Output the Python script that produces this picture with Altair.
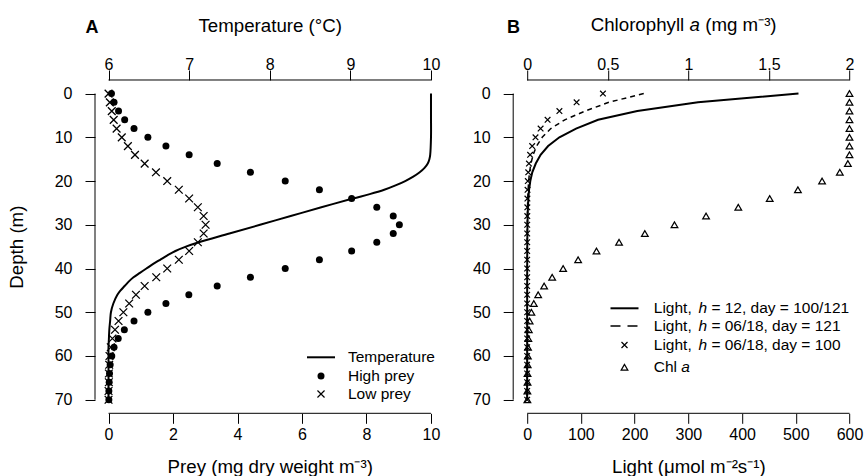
import altair as alt
import pandas as pd

# ---------------- data ----------------
depth = list(range(0, 72, 2))

high_prey = [0.09, 0.17, 0.31, 0.50, 0.79, 1.22, 1.78, 2.50, 3.37, 4.40, 5.48, 6.54,
             7.54, 8.32, 8.83, 9.02, 8.83, 8.32, 7.54, 6.54, 5.48, 4.40, 3.37, 2.49,
             1.78, 1.22, 0.79, 0.49, 0.30, 0.17, 0.10, 0.05, 0.03, 0.02, 0.01, 0.01]
low_prey = [0.00, 0.04, 0.10, 0.16, 0.25, 0.41, 0.60, 0.82, 1.12, 1.47, 1.82, 2.18,
            2.50, 2.77, 2.95, 3.01, 2.95, 2.77, 2.50, 2.18, 1.82, 1.48, 1.12, 0.85,
            0.64, 0.46, 0.31, 0.20, 0.12, 0.07, 0.03, 0.02, 0.01, 0.01, 0.00, 0.00]

temp_depth = [0, 5, 10, 14, 15, 16, 17, 18, 19, 20, 21, 22, 23, 24, 26, 28, 30, 32, 34,
              35, 36, 37, 38, 39, 40, 41, 42, 43, 44, 45, 46, 48, 50, 52, 54, 56, 58,
              60, 65, 70]
temp_c = [10.0, 10.0, 10.0, 9.99, 9.98, 9.96, 9.92, 9.86, 9.78, 9.68, 9.56, 9.42, 9.24,
          9.03, 8.64, 8.26, 7.88, 7.50, 7.12, 6.96, 6.83, 6.73, 6.64, 6.55, 6.47, 6.39,
          6.31, 6.25, 6.20, 6.15, 6.11, 6.06, 6.03, 6.02, 6.01, 6.005, 6.0, 6.0, 6.0, 6.0]

light_h12 = [505, 318, 205, 132, 91, 60, 39, 25, 16, 9.5, 5.8, 3.5, 2.2, 1.4, 0.9, 0.6,
             0.4, 0.25, 0.15, 0.1, 0.07, 0.05, 0.03, 0.02, 0.01, 0.01,
             0, 0, 0, 0, 0, 0, 0, 0, 0, 0]
light_h0618_d121 = [217, 152, 108, 70, 44, 28, 17.5, 11, 7, 4.4, 2.8, 1.8, 1.1, 0.7,
                    0.45, 0.3, 0.2, 0.12, 0.08, 0.05, 0.03, 0.02, 0.01, 0.01,
                    0, 0, 0, 0, 0, 0, 0, 0, 0, 0, 0, 0]
light_h0618_d100 = [141, 92, 60, 38, 25, 15.5, 9.3, 5.5, 3.3, 2.0, 1.2, 0.7, 0.45, 0.3,
                    0.2, 0.1, 0.07, 0.05, 0.03, 0.02, 0.01, 0.01,
                    0, 0, 0, 0, 0, 0, 0, 0, 0, 0, 0, 0, 0, 0]
chl_a = [2.0, 2.0, 2.0, 2.0, 2.0, 2.0, 2.0, 2.0, 1.99, 1.94, 1.83, 1.68, 1.505, 1.31,
         1.11, 0.914, 0.73, 0.57, 0.43, 0.316, 0.223, 0.155, 0.105, 0.068, 0.041, 0.026,
         0.015, 0.01, 0.007, 0.005, 0.004, 0.003, 0.002, 0.002, 0.001, 0.001]

depth_ticks = [0, 10, 20, 30, 40, 50, 60, 70]
prey_ticks = [0, 2, 4, 6, 8, 10]
temp_ticks = [6, 7, 8, 9, 10]
light_ticks = [0, 100, 200, 300, 400, 500, 600]
chl_ticks = [0, 0.5, 1, 1.5, 2]

legend_A = ["Temperature", "High prey", "Low prey"]

# ---------------- styling ----------------
FONT = "Liberation Sans"
WA, WB, H = 349.5, 350.3, 333.3
LBL = 16
TTL = 18.7
LEG = 15.5
CROSS = "M-1,-1L1,1M-1,1L1,-1"

dfA = pd.DataFrame({"depth": depth, "high": high_prey, "low": low_prey})
dfT = pd.DataFrame({"depth": temp_depth, "temp": temp_c})
dfB = pd.DataFrame({"depth": depth, "l12": light_h12, "l121": light_h0618_d121,
                    "l100": light_h0618_d100, "chl": chl_a})
dummy = pd.DataFrame({"k": [0]})

yscale = alt.Scale(domain=[-3.1, 73.1], reverse=True, nice=False, zero=False)


def y_enc(title_text):
    kw = dict(values=depth_ticks, orient="left", labelPadding=13, labelAlign="right",
              labelBaseline="middle")
    if title_text:
        kw.update(title=title_text, titlePadding=28)
    else:
        kw.update(title="")
    return alt.Y("depth:Q", scale=yscale, axis=alt.Axis(**kw))


def txt(text, x, y, size=LEG, align="left", italic=False, bold=False):
    kw = dict(text=text, font=FONT, fontSize=size, align=align, baseline="middle",
              color="black")
    if italic:
        kw["fontStyle"] = "italic"
    if bold:
        kw["fontWeight"] = "bold"
    return alt.Chart(dummy).mark_text(**kw).encode(x=alt.value(x), y=alt.value(y))


# invisible anchor fixing the page origin: plot area of A starts at (95, 80)
anchor = alt.Chart(dummy).mark_rule(strokeWidth=0.01, opacity=0).encode(
    x=alt.value(-95), x2=alt.value(-94.5), y=alt.value(-80))

# ---------------- panel A ----------------
prey_scale = alt.Scale(domain=[-0.42, 10.42], nice=False, zero=False)
prey_axis = alt.Axis(values=prey_ticks, orient="bottom", title="Prey (mg dry weight m⁻³)",
                     labelPadding=3, titlePadding=15)
temp_scale = alt.Scale(domain=[5.8325, 10.1675], nice=False, zero=False)
temp_axis = alt.Axis(values=temp_ticks, orient="top", title="Temperature (°C)",
                     format="~g", labelPadding=-3, titlePadding=21)

yA = y_enc("Depth (m)")

high = alt.Chart(dfA).mark_point(shape="circle", filled=True, size=49, color="black",
                                 opacity=1).encode(
    x=alt.X("high:Q", scale=prey_scale, axis=prey_axis), y=yA)
low = alt.Chart(dfA).mark_point(shape=CROSS, filled=False, size=60, color="black",
                                strokeWidth=1.3, opacity=1).encode(
    x=alt.X("low:Q", scale=prey_scale, axis=prey_axis), y=yA)
prey_rule = alt.Chart(dummy).mark_rule(color="black", strokeWidth=1).encode(
    x=alt.datum(prey_ticks[0]), x2=alt.datum(prey_ticks[-1]), y=alt.value(H))
depth_rule_A = alt.Chart(dummy).mark_rule(color="black", strokeWidth=1).encode(
    y=alt.datum(depth_ticks[0]), y2=alt.datum(depth_ticks[-1]), x=alt.value(0))

legA_line = alt.Chart(dummy).mark_rule(color="black", strokeWidth=2).encode(
    x=alt.value(212), x2=alt.value(240), y=alt.value(277.3))
legA_dot = alt.Chart(dummy).mark_point(shape="circle", filled=True, size=49, color="black",
                                       opacity=1).encode(x=alt.value(226), y=alt.value(296))
legA_cross = alt.Chart(dummy).mark_point(shape=CROSS, filled=False, size=50, color="black",
                                         strokeWidth=1.2, opacity=1).encode(
    x=alt.value(226), y=alt.value(314))
legA_txt = [txt(legend_A[0], 253, 277.3), txt(legend_A[1], 253, 296),
            txt(legend_A[2], 253, 314)]
letter_A = txt("A", -3, -52, size=18, align="center", bold=True)

temp_line = alt.Chart(dfT).mark_line(color="black", strokeWidth=2,
                                     interpolate="catmull-rom").encode(
    x=alt.X("temp:Q", scale=temp_scale, axis=temp_axis), y=yA, order="depth:Q")
temp_rule = alt.Chart(dummy).mark_rule(color="black", strokeWidth=1).encode(
    x=alt.datum(temp_ticks[0]), x2=alt.datum(temp_ticks[-1]), y=alt.value(0))

panelA = alt.layer(
    alt.layer(high, low, prey_rule, depth_rule_A, legA_line, legA_dot, legA_cross,
              *legA_txt, letter_A, anchor),
    alt.layer(temp_line, temp_rule),
).resolve_scale(x="independent").properties(width=WA, height=H)

# ---------------- panel B ----------------
light_scale = alt.Scale(domain=[-26, 626], nice=False, zero=False)
light_axis = alt.Axis(values=light_ticks, orient="bottom", title="Light (μmol m⁻²s⁻¹)",
                      labelPadding=3, titlePadding=15)
chl_scale = alt.Scale(domain=[-0.087, 2.087], nice=False, zero=False)
chl_axis = alt.Axis(values=chl_ticks, orient="top", title="", format="~g", labelPadding=-3)

yB = y_enc("")

solid = alt.Chart(dfB).mark_line(color="black", strokeWidth=2).encode(
    x=alt.X("l12:Q", scale=light_scale, axis=light_axis), y=yB, order="depth:Q")
dashed = alt.Chart(dfB).mark_line(color="black", strokeWidth=1.5, strokeDash=[5, 4]).encode(
    x=alt.X("l121:Q", scale=light_scale, axis=light_axis), y=yB, order="depth:Q")
crossB = alt.Chart(dfB).mark_point(shape=CROSS, filled=False, size=32, color="black",
                                   strokeWidth=1.2, opacity=1).encode(
    x=alt.X("l100:Q", scale=light_scale, axis=light_axis), y=yB)
light_rule = alt.Chart(dummy).mark_rule(color="black", strokeWidth=1).encode(
    x=alt.datum(light_ticks[0]), x2=alt.datum(light_ticks[-1]), y=alt.value(H))
depth_rule_B = alt.Chart(dummy).mark_rule(color="black", strokeWidth=1).encode(
    y=alt.datum(depth_ticks[0]), y2=alt.datum(depth_ticks[-1]), x=alt.value(0))

legB_solid = alt.Chart(dummy).mark_rule(color="black", strokeWidth=2).encode(
    x=alt.value(97.3), x2=alt.value(125.3), y=alt.value(228.3))
legB_dash = alt.Chart(dummy).mark_rule(color="black", strokeWidth=1.5,
                                       strokeDash=[10, 7]).encode(
    x=alt.value(97.3), x2=alt.value(125.3), y=alt.value(246))
legB_cross = alt.Chart(dummy).mark_point(shape=CROSS, filled=False, size=36, color="black",
                                         strokeWidth=1.2, opacity=1).encode(
    x=alt.value(111.3), y=alt.value(265))
legB_tri = alt.Chart(dummy).mark_point(shape="triangle-up", filled=False, size=45,
                                       color="black", strokeWidth=1.2, opacity=1).encode(
    x=alt.value(111.3), y=alt.value(287.3))
legB_txt = []
for yy, rest in [(228.3, "= 12, day = 100/121"), (246, "= 06/18, day = 121"),
                 (265, "= 06/18, day = 100")]:
    legB_txt += [txt("Light,", 140.6, yy), txt("h", 185.3, yy, italic=True),
                 txt(rest, 198.2, yy)]
legB_txt += [txt("Chl", 140.6, 287.3), txt("a", 168.1, 287.3, italic=True)]
letter_B = txt("B", 0.3, -52, size=18, align="center", bold=True)
chl_title = [txt("Chlorophyll", 171, -55, size=TTL, align="right"),
             txt("a", 176.3, -55, size=TTL, italic=True),
             txt("(mg m⁻³)", 192, -55, size=TTL)]

chl_pts = alt.Chart(dfB).mark_point(shape="triangle-up", filled=False, size=45,
                                    color="black", strokeWidth=1.2, opacity=1).encode(
    x=alt.X("chl:Q", scale=chl_scale, axis=chl_axis), y=yB)
chl_rule = alt.Chart(dummy).mark_rule(color="black", strokeWidth=1).encode(
    x=alt.datum(chl_ticks[0]), x2=alt.datum(chl_ticks[-1]), y=alt.value(0))

panelB = alt.layer(
    alt.layer(solid, dashed, crossB, light_rule, depth_rule_B, legB_solid, legB_dash,
              legB_cross, legB_tri, *legB_txt, letter_B),
    alt.layer(chl_pts, chl_rule, *chl_title),
).resolve_scale(x="independent").properties(width=WB, height=H)

chart = alt.hconcat(panelA, panelB, spacing=68.2, bounds="flush").properties(
    padding=0, background="white",
).configure_view(stroke=None).configure_axis(
    domain=False, grid=False, tickColor="black", tickSize=10, tickWidth=1,
    labelColor="black", labelFont=FONT, labelFontSize=LBL, titleFont=FONT,
    titleFontSize=TTL, titleFontWeight="normal", titleColor="black",
)

chart.save("out.html", embed_options={"renderer": "svg", "actions": False})
